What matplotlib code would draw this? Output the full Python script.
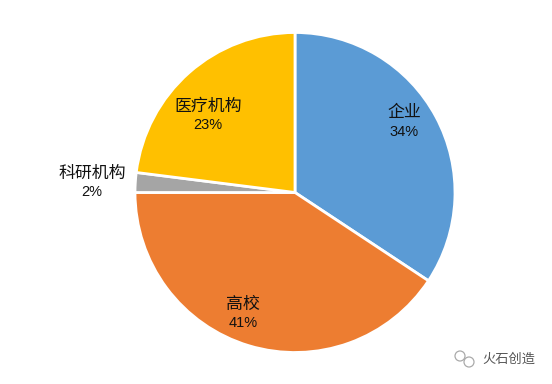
import matplotlib
matplotlib.use('Agg')
import matplotlib.pyplot as plt
from matplotlib.patches import Circle

plt.rcParams['font.family'] = ['Noto Sans CJK SC', 'DejaVu Sans']

categories = ['企业', '高校', '科研机构', '医疗机构']
values = [34.3, 40.7, 2, 23]
colors = ['#5B9BD5', '#ED7D31', '#A5A5A5', '#FFC000']
pct_labels = ['34%', '41%', '2%', '23%']
label_xy = [(404, 112.5), (243, 303.5), (92, 172.5), (208, 105.5)]
watermark = '火石创造'

W, H = 552, 384
fig = plt.figure(figsize=(W/100, H/100), dpi=100, facecolor='white')
ax = fig.add_axes([0, 0, 1, 1])

cx, cy, r = 295, 192.5, 160
# the y axis runs downward (pixel coordinates), so -90 deg is the top of the
# pie and increasing angle runs clockwise on screen
ax.pie(values, colors=colors, startangle=-90, counterclock=True,
       center=(cx, cy), radius=r, frame=True,
       wedgeprops=dict(edgecolor='white', linewidth=2.0))
ax.set_xlim(0, W)
ax.set_ylim(H, 0)
ax.set_aspect('equal')
ax.axis('off')

for cat, pct, (x, y) in zip(categories, pct_labels, label_xy):
    ax.text(x, y, cat, ha='center', va='center', fontsize=12.2,
            fontweight='light', color='#111111')
    ax.text(x, y + 19.5, pct, ha='center', va='center', fontsize=10.5,
            family='Liberation Sans', color='#111111')

ax.text(509, 359.5, watermark, ha='center', va='center', fontsize=9.5, color='#555555')
ax.add_patch(Circle((460, 356), 5, fc='none', ec='#AAAAAA', lw=0.9))
ax.add_patch(Circle((469, 362), 5, fc='white', ec='#AAAAAA', lw=0.9))

fig.savefig('out.png', dpi=100, facecolor='white')
